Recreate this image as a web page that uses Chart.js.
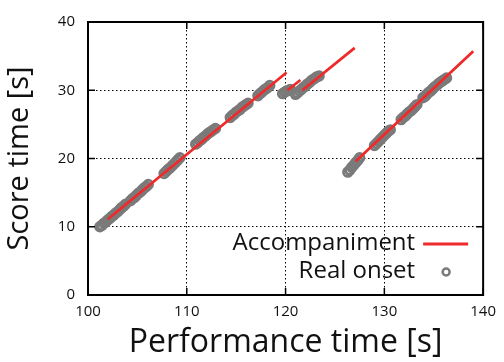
<!DOCTYPE html>
<html>
<head>
<meta charset="utf-8">
<script src="https://cdn.jsdelivr.net/npm/chart.js@4/dist/chart.umd.min.js"></script>
<style>
  html, body { margin: 0; padding: 0; background: #fff; }
  #wrap { width: 504px; height: 362px; }
</style>
</head>
<body>
<div id="wrap"><canvas id="chart" width="504" height="362"></canvas></div>
<script>
// Data
const xTicks = [100, 110, 120, 130, 140];
const yTicks = [0, 10, 20, 30, 40];

// accompaniment line: pieces separated by null
const accompPerf  = [102.0, 120.1, null, 120.2, 121.5, null, 121.7, 127.0, null, 127.1, 139.0];
const accompScore = [11.1, 32.6, null, 30.0, 31.5, null, 30.0, 36.2, null, 19.6, 35.7];

// real onsets
const onsetPerf = [
    101.2, 101.4, 101.6, 101.8, 102.0, 102.2, 102.4, 102.6, 102.8, 103.0, 103.2, 103.4, 103.6, 103.8,
    104.3, 104.5, 104.7, 104.9, 105.1, 105.3, 105.5, 105.7, 105.9, 106.1,
    107.7, 107.9, 108.1, 108.3, 108.5, 108.7, 108.9, 109.1, 109.3,
    110.9, 111.1, 111.3, 111.5, 111.7, 111.9, 112.1, 112.3, 112.5, 112.7, 112.9,
    114.4, 114.6, 114.8, 115.0, 115.2, 115.4, 115.6, 115.8, 116.0, 116.2,
    117.2, 117.4, 117.6, 117.8, 118.0, 118.2, 118.4,
    119.7, 119.9, 120.1, 120.3, 120.5,
    121.0, 121.2, 121.4, 121.6, 121.8, 122.0, 122.2, 122.4, 122.6, 122.8, 123.0, 123.2, 123.4,
    126.3, 126.5, 126.7, 126.9, 127.1, 127.3, 127.5,
    129.0, 129.2, 129.4, 129.6, 129.8, 130.0, 130.2, 130.4, 130.6,
    131.7, 131.9, 132.1, 132.3, 132.5, 132.7, 132.9, 133.1, 133.3,
    133.9, 134.1, 134.3, 134.5, 134.7, 134.9, 135.1, 135.3, 135.5, 135.7, 135.9, 136.1, 136.3
];
const onsetScore = [
    10.0, 10.2, 10.5, 10.7, 11.0, 11.2, 11.5, 11.7, 12.0, 12.2, 12.5, 12.8, 13.0, 13.3,
    13.8, 14.1, 14.3, 14.6, 14.9, 15.1, 15.4, 15.7, 15.9, 16.2,
    17.8, 18.1, 18.4, 18.6, 18.9, 19.2, 19.5, 19.8, 20.1,
    22.1, 22.3, 22.6, 22.8, 23.1, 23.3, 23.6, 23.8, 24.0, 24.2, 24.4,
    26.0, 26.3, 26.5, 26.8, 27.0, 27.2, 27.5, 27.7, 27.9, 28.1,
    29.2, 29.5, 29.7, 30.0, 30.2, 30.4, 30.7,
    29.5, 29.7, 29.9, 30.0, 30.1,
    29.4, 29.6, 29.9, 30.1, 30.4, 30.6, 30.9, 31.1, 31.4, 31.6, 31.8, 32.0, 32.1,
    18.0, 18.3, 18.7, 19.0, 19.4, 19.7, 20.1,
    21.9, 22.2, 22.5, 22.8, 23.1, 23.4, 23.7, 24.0, 24.2,
    25.7, 26.0, 26.2, 26.5, 26.8, 27.0, 27.3, 27.6, 27.9,
    28.9, 29.1, 29.4, 29.7, 29.9, 30.2, 30.5, 30.7, 31.0, 31.2, 31.4, 31.6, 31.8
];

// Style
const red = "#ee2a2a";
const grey = "#7a7a7a";
const font = "'Open Sans', 'Noto Sans', sans-serif";

// frame with inward ticks on all four sides, and the legend
const framePlugin = {
    id: "frame",
    afterDraw(chart) {
        const {ctx, chartArea: a, scales: {x, y}} = chart;
        ctx.save();
        ctx.strokeStyle = "#000";
        ctx.lineWidth = 2;
        ctx.strokeRect(a.left, a.top, a.right - a.left, a.bottom - a.top);
        ctx.lineWidth = 1.5;
        ctx.beginPath();
        xTicks.forEach(v => {
            let px = x.getPixelForValue(v);
            ctx.moveTo(px, a.bottom); ctx.lineTo(px, a.bottom - 7);
            ctx.moveTo(px, a.top); ctx.lineTo(px, a.top + 7);
        });
        yTicks.forEach(v => {
            let py = y.getPixelForValue(v);
            ctx.moveTo(a.left, py); ctx.lineTo(a.left + 7, py);
            ctx.moveTo(a.right, py); ctx.lineTo(a.right - 7, py);
        });
        ctx.stroke();

        // legend: text then symbol
        const ds = chart.data.datasets;
        ctx.font = "24px " + font;
        ctx.fillStyle = "#111";
        ctx.textAlign = "right";
        ctx.textBaseline = "middle";
        const tx = a.right - 68, y1 = a.bottom - 52, y2 = a.bottom - 24;
        ctx.fillText(ds[0].label, tx, y1);
        ctx.fillText(ds[1].label, tx, y2);
        ctx.strokeStyle = red;
        ctx.lineWidth = 3;
        ctx.beginPath();
        ctx.moveTo(a.right - 60, y1 + 1); ctx.lineTo(a.right - 15, y1 + 1);
        ctx.stroke();
        ctx.strokeStyle = grey;
        ctx.lineWidth = 2.5;
        ctx.beginPath();
        ctx.arc(a.right - 37, y2 + 1, 3.5, 0, Math.PI * 2);
        ctx.stroke();
        ctx.restore();
    }
};

new Chart(document.getElementById("chart"), {
    type: "scatter",
    data: {
        datasets: [
            {
                type: "line",
                label: "Accompaniment",
                data: accompPerf.map((x, i) => ({x: x === null ? accompPerf[i - 1] : x, y: accompScore[i]})),
                borderColor: red,
                borderWidth: 2.8,
                pointRadius: 0,
                spanGaps: false,
                tension: 0,
                order: 0
            },
            {
                label: "Real onset",
                data: onsetPerf.map((x, i) => ({x: x, y: onsetScore[i]})),
                borderColor: grey,
                backgroundColor: "rgba(0,0,0,0)",
                borderWidth: 2.8,
                pointRadius: 4.3,
                order: 1
            }
        ]
    },
    options: {
        responsive: false,
        animation: false,
        events: [],
        layout: {padding: {left: 0, top: 18, right: 17, bottom: 0}},
        plugins: {legend: {display: false}, tooltip: {enabled: false}},
        scales: {
            x: {
                type: "linear",
                min: 100, max: 140,
                afterBuildTicks: s => { s.ticks = xTicks.map(v => ({value: v})); },
                afterFit: s => { s.height = 67; },
                grid: {color: "#000", lineWidth: 1, drawTicks: false},
                border: {display: false, dash: [1.5, 2.5]},
                ticks: {padding: 8, color: "#111", font: {family: font, size: 15}},
                title: {display: true, text: "Performance time [s]", color: "#111",
                    font: {family: font, size: 32}, padding: {top: 4, bottom: 0}}
            },
            y: {
                min: 0, max: 40,
                afterBuildTicks: s => { s.ticks = yTicks.map(v => ({value: v})); },
                afterFit: s => { s.width = 88; },
                grid: {color: "#000", lineWidth: 1, drawTicks: false},
                border: {display: false, dash: [1.5, 2.5]},
                ticks: {padding: 13, color: "#111", font: {family: font, size: 15}},
                title: {display: true, text: "Score time [s]", color: "#111",
                    font: {family: font, size: 29}, padding: {top: 2, bottom: 0}}
            }
        }
    },
    plugins: [framePlugin]
});
</script>
</body>
</html>
